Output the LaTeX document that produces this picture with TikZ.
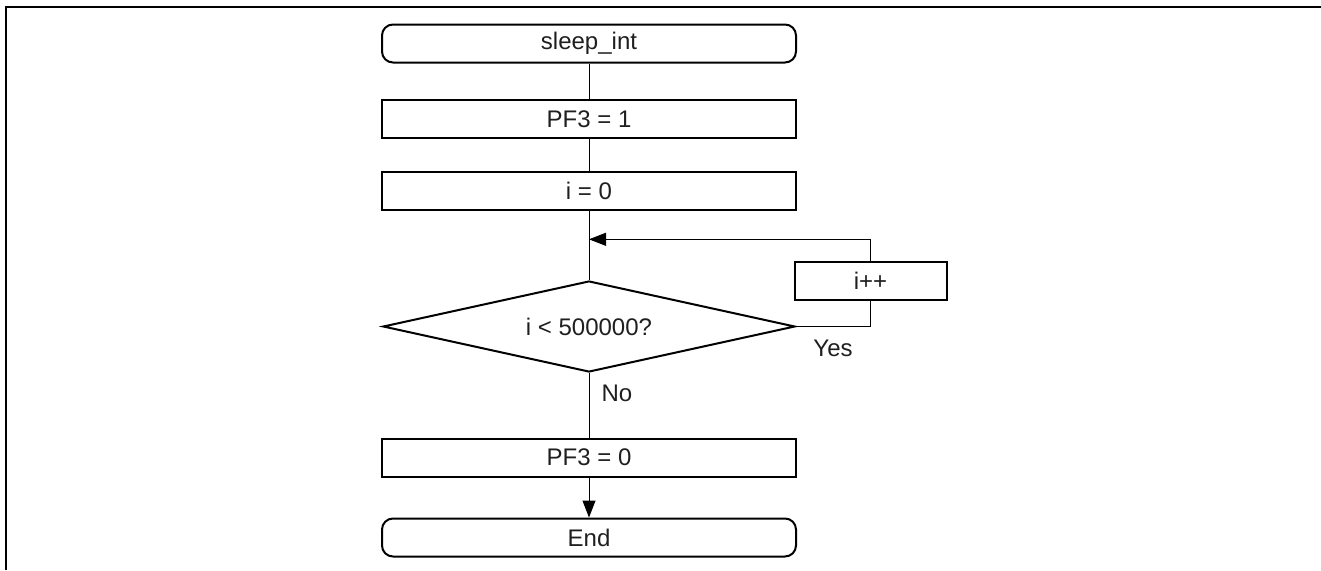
\documentclass[tikz,border=0pt]{standalone}
\usepackage{fontspec}
\setmainfont{Liberation Sans}
\usetikzlibrary{shapes.geometric,arrows.meta}
\begin{document}
\begin{tikzpicture}[x=1pt,y=-1pt,
  every node/.style={font=\fontsize{24}{28}\selectfont, text=black!88},
  term/.style={draw, line width=2pt, rounded corners=11pt, minimum width=414pt, minimum height=38pt, inner sep=0pt},
  proc/.style={draw, line width=2pt, minimum width=414pt, minimum height=38pt, inner sep=0pt},
  dec/.style={draw, diamond, aspect=4.53, line width=2pt, minimum width=412pt, minimum height=91pt, inner sep=0pt},
  conn/.style={line width=1pt},
  arr/.style={conn, -{Triangle[length=17pt,width=13pt]}},
  lbl/.style={inner sep=0pt}]
\useasboundingbox (0,0) rectangle (1321,570);
\draw[line width=2.8pt] (6,570) -- (6,7) -- (1321,7);
\node[term] (start) at (589,43.5) {sleep\_int};
\node[proc] (pf1) at (589,119) {PF3 = 1};
\node[proc] (i0) at (589,191.3) {i = 0};
\node[dec] (dia) at (589,326.5) {i < 500000?};
\node[proc, minimum width=152pt] (ipp) at (870.5,281) {i++};
\node[proc] (pf0) at (589,457.5) {PF3 = 0};
\node[term] (end) at (589,537.5) {End};
\coordinate (join) at (589,239.3);
\coordinate (c1) at (870.5,239.3);
\coordinate (c2) at (870.5,326.5);
\draw[conn] (start) -- (pf1);
\draw[conn] (pf1) -- (i0);
\draw[conn] (i0) -- (dia);
\draw[conn] (dia.east) -- (c2) -- (ipp);
\draw[arr] (ipp) -- (c1) -- (join);
\draw[conn] (dia) -- (pf0);
\draw[arr] (pf0) -- (end);
\node[lbl] (yes) at (833,348) {Yes};
\node[lbl] (no) at (617,393) {No};
\end{tikzpicture}
\end{document}
